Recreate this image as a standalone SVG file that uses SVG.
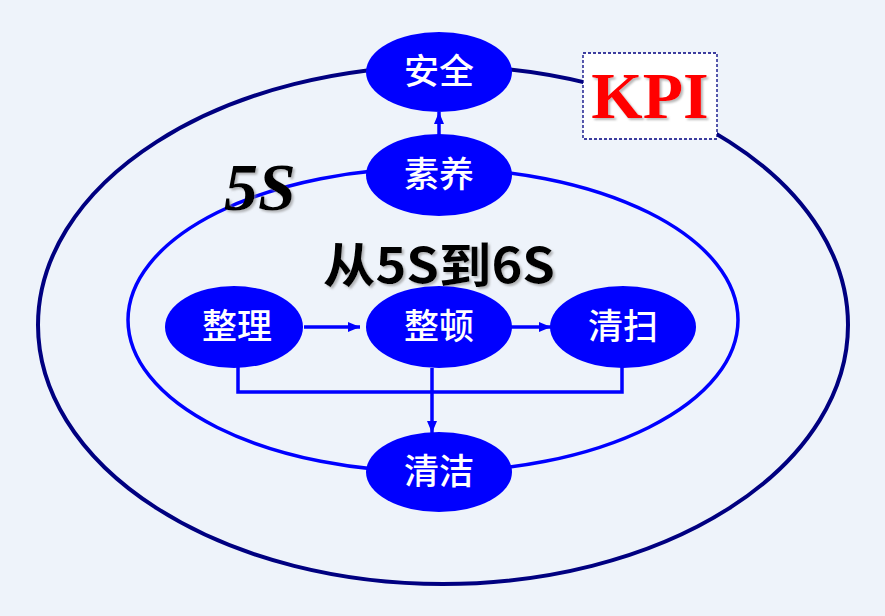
<svg xmlns="http://www.w3.org/2000/svg" width="885" height="616" viewBox="0 0 885 616">
<style>
.node{fill:#0000FF;}
.nt{fill:#FFFFFF;font-family:"Noto Sans CJK SC",sans-serif;font-weight:500;font-size:35px;text-anchor:middle;}
.ln{stroke:#0000FF;stroke-width:3.5;fill:none;}
</style>
<defs>
<marker id="ah" markerWidth="12" markerHeight="10" refX="12" refY="5" orient="auto" markerUnits="userSpaceOnUse">
<path d="M0,0 L12,5 L0,10 Z" fill="#0000FF"/>
</marker>
<filter id="sh" x="-10%" y="-10%" width="130%" height="130%">
<feDropShadow dx="2" dy="2" stdDeviation="1.2" flood-color="#888888" flood-opacity="0.6"/>
</filter>
</defs>
<rect width="885" height="616" fill="#EEF3FA"/>
<g id="rings">
<ellipse cx="443" cy="325" rx="405" ry="259" fill="none" stroke="#000080" stroke-width="4"/>
<ellipse cx="433" cy="320" rx="305" ry="152" fill="none" stroke="#0000FF" stroke-width="3.5"/>
</g>
<g id="kpi">
<rect x="583" y="53" width="134" height="86" fill="#FFFFFF" stroke="#000080" stroke-width="1.3" stroke-dasharray="3,2"/>
<text x="650" y="118" font-family="Liberation Serif,serif" font-weight="bold" font-size="66" fill="#FF0000" text-anchor="middle" filter="url(#sh)">KPI</text>
</g>
<text id="label5s" x="224" y="210" font-family="Liberation Serif,serif" font-weight="bold" font-style="italic" font-size="68" fill="#000000" filter="url(#sh)">5S</text>
<text id="title" x="439" y="283" font-family="Noto Sans CJK SC,sans-serif" font-weight="bold" font-size="48" fill="#000000" text-anchor="middle" textLength="232" lengthAdjust="spacingAndGlyphs" filter="url(#sh)">从5S到6S</text>
<g id="connectors">
<line class="ln" x1="439" y1="135" x2="439" y2="112" marker-end="url(#ah)"/>
<line class="ln" x1="304" y1="327" x2="360" y2="327" marker-end="url(#ah)"/>
<line class="ln" x1="511" y1="327" x2="551" y2="327" marker-end="url(#ah)"/>
<polyline class="ln" points="238,366 238,392 622,392 622,366"/>
<line class="ln" x1="432" y1="368" x2="432" y2="433" marker-end="url(#ah)"/>
</g>
<g id="n-anquan"><ellipse class="node" cx="439" cy="72" rx="73" ry="40"/><text class="nt" x="439" y="84">安全</text></g>
<g id="n-suyang"><ellipse class="node" cx="439" cy="175" rx="73" ry="41"/><text class="nt" x="439" y="187">素养</text></g>
<g id="n-zhengli"><ellipse class="node" cx="234" cy="327" rx="69" ry="41"/><text class="nt" x="237" y="339">整理</text></g>
<g id="n-zhengdun"><ellipse class="node" cx="439" cy="327" rx="73" ry="41"/><text class="nt" x="439" y="339">整顿</text></g>
<g id="n-qingsao"><ellipse class="node" cx="623" cy="327" rx="73" ry="41"/><text class="nt" x="623" y="339">清扫</text></g>
<g id="n-qingjie"><ellipse class="node" cx="439" cy="472" rx="73" ry="40"/><text class="nt" x="439" y="484">清洁</text></g>
</svg>
